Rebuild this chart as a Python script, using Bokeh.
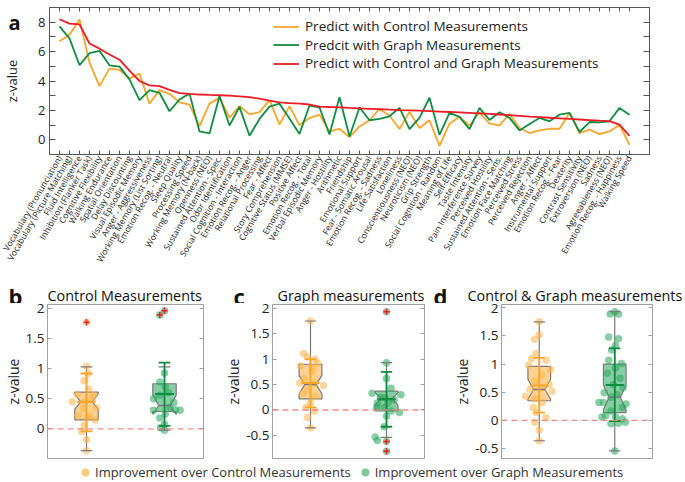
import math
from bokeh.plotting import figure
from bokeh.layouts import column, row
from bokeh.models import (ColumnDataSource, FixedTicker, LinearAxis, Legend, LegendItem,
                          Label, Span, Range1d)
from bokeh.embed import file_html
from bokeh.resources import INLINE

FONT = "Open Sans"

# ---------------- data: panel a ----------------
measures = [
    "Vocabulary (Pronunciation)", "Vocabulary (Picture Matching)", "Fluid Intelligence",
    "Inhibition (Flanker Task)", "Cognitive Flexibility", "Walking Endurance",
    "Spatial Orientation", "Delay Discounting", "Visual Episodic Memory",
    "Anger - Aggressiveness", "Working Memory (List Sorting)", "Emotion Recog. - Neutral",
    "Sleep Quality", "Processing Speed", "Working Memory (N-back)", "Openness (NEO)",
    "Sustained Attention - Spec.", "Odor Identification", "Social Cognition - Interaction",
    "Emotion Recog. - Anger", "Relational Processing", "Fear - Affect",
    "Story Comprehension", "Cognitive Status (MMSE)", "Positive Affect",
    "Emotion Recog. - Total", "Verbal Episodic Memory", "Anger - Hostility",
    "Arithmetic", "Friendship", "Emotional Support", "Fear - Somatic Arousal",
    "Emotion Recog. - Sadness", "Life Satisfaction", "Loneliness",
    "Conscientiousness (NEO)", "Neuroticism (NEO)", "Grip Strength",
    "Social Cognition - Random", "Meaning of Life", "Self-Efficacy", "Taste Intensity",
    "Pain Interference Survey", "Perceived Hostility", "Sustained Attention - Sens.",
    "Emotion Face Matching", "Perceived Stress", "Perceived Rejection", "Anger - Affect",
    "Instrumental Support", "Emotion Recog. - Fear", "Dexterity", "Contrast Sensitivity",
    "Extroversion (NEO)", "Sadness", "Agreeableness (NEO)", "Emotion Recog. - Happiness",
    "Walking Speed",
]
pred_control = [6.7, 7.15, 8.18, 5.25, 3.65, 4.84, 4.75, 4.18, 4.5, 2.46,
                3.38, 3.13, 2.55, 2.4, 0.93, 2.46, 2.86, 1.5, 2.3, 1.73,
                1.88, 2.7, 1.05, 2.28, 1.0, 1.48, 1.71, 0.57, 0.75, 0.18,
                0.91, 1.33, 2.1, 1.65, 0.73, 1.9, 0.8, 1.33, -0.41, 1.1,
                1.56, 0.96, 1.87, 1.1, 0.98, 1.76, 0.8, 0.46, 0.64, 0.75,
                0.75, 1.83, 0.46, 0.69, 0.39, 0.57, 1.03, -0.34]
pred_graph = [7.72, 6.9, 5.07, 5.9, 6.05, 5.07, 4.98, 4.11, 2.7, 3.38,
              3.2, 1.94, 2.74, 3.14, 0.57, 0.43, 2.98, 0.97, 2.24, 0.28,
              1.42, 2.26, 2.46, 1.45, 0.4, 2.33, 2.2, 0.36, 2.9, 0.23,
              2.2, 1.33, 1.42, 1.6, 2.17, 0.73, 1.49, 2.86, 0.34, 1.83,
              1.56, 0.73, 2.17, 1.35, 1.87, 1.49, 0.64, 1.08, 1.49, 1.26,
              1.71, 1.83, 0.53, 1.21, 1.19, 1.26, 2.17, 1.71]
pred_both = [8.2, 7.9, 7.85, 6.55, 6.2, 5.8, 5.45, 4.7, 4.0, 3.7,
             3.65, 3.4, 3.17, 3.12, 3.08, 3.05, 3.03, 3.0, 2.95, 2.9,
             2.8, 2.67, 2.55, 2.5, 2.46, 2.4, 2.26, 2.23, 2.21, 2.17,
             2.14, 2.11, 2.08, 2.05, 2.02, 2.0, 1.98, 1.95, 1.92, 1.89,
             1.86, 1.83, 1.8, 1.76, 1.72, 1.68, 1.63, 1.58, 1.54, 1.5,
             1.46, 1.42, 1.38, 1.34, 1.3, 1.27, 1.03, 0.27]
series_names = ["Predict with Control Measurements", "Predcit with Graph Measurements",
                "Predict with Control and Graph Measurements"]
top_yticks = [0, 2, 4, 6, 8]
top_yminor = [1, 3, 5, 7]
top_yall = [0, 1, 2, 3, 4, 5, 6, 7, 8]

# ---------------- data: panels b, c, d ----------------
groups = [1, 2]  # 1 = improvement over control, 2 = improvement over graph
legend_names = ["Improvement over Control Measurements", "Improvement over Graph Measurements"]
panel_letters = ["a", "b", "c", "d"]
panel_titles = ["Control Measurements", "Graph measurements", "Control & Graph  measurements"]

# panel b
b_ctrl_vals = [1.77, 1.04, 0.92, 0.80, 0.66, 0.57, 0.56, 0.50, 0.45, 0.44, 0.35, 0.33,
               0.22, 0.22, 0.18, 0.15, 0.06, -0.04, -0.18, -0.36]
b_ctrl_jit = [0.0, 0.0, 0.02, -0.03, 0.03, -0.12, 0.09, 0.07, -0.18, -0.03, 0.13, -0.04,
              -0.11, 0.04, 0.01, 0.11, -0.03, -0.06, 0.0, 0.0]
b_graph_vals = [1.96, 1.89, 0.93, 0.78, 0.70, 0.60, 0.56, 0.50, 0.44, 0.36, 0.32, 0.31,
                0.31, 0.25, 0.18, 0.08, 0.02, -0.02]
b_graph_jit = [0.0, -0.06, 0.0, -0.06, 0.01, 0.05, -0.06, -0.14, 0.12, 0.07, 0.14, 0.2,
               -0.14, 0.01, -0.06, 0.0, -0.05, 0.0]
b_stats = dict(q1=[0.15, 0.29], med=[0.45, 0.39], q3=[0.61, 0.75], nlo=[0.33, 0.24],
               nhi=[0.58, 0.56], wlo=[-0.36, -0.02], whi=[1.03, 1.03], mean=[0.45, 0.58],
               elo=[-0.04, 0.05], ehi=[0.92, 1.10])
b_out_grp = [1, 2, 2]
b_out_vals = [1.77, 1.96, 1.89]
b_out_jit = [0.0, 0.0, -0.06]

# panel c
c_ctrl_vals = [1.75, 1.11, 1.04, 1.00, 0.92, 0.87, 0.84, 0.75, 0.62, 0.53, 0.53, 0.48,
               0.40, 0.32, 0.27, 0.14, 0.05, -0.02, -0.15, -0.35]
c_ctrl_jit = [0.0, -0.09, -0.04, 0.06, 0.09, -0.13, 0.02, 0.02, -0.08, 0.06, -0.14, 0.17,
              -0.04, -0.1, 0.07, 0.0, -0.06, 0.05, -0.04, 0.0]
c_graph_vals = [1.93, 0.93, 0.62, 0.43, 0.33, 0.30, 0.25, 0.24, 0.20, 0.14, 0.14, 0.05,
                0.05, -0.02, -0.05, -0.12, -0.33, -0.53, -0.60, -0.62, -0.81]
c_graph_jit = [0.0, 0.0, 0.0, 0.06, -0.19, 0.19, -0.08, -0.02, 0.1, -0.12, 0.02, -0.03,
               -0.13, 0.06, 0.17, 0.0, -0.03, -0.15, -0.12, 0.0, 0.0]
c_stats = dict(q1=[0.22, -0.02], med=[0.50, 0.22], q3=[0.90, 0.37], nlo=[0.32, 0.10],
               nhi=[0.68, 0.34], wlo=[-0.35, -0.54], whi=[1.75, 0.93], mean=[0.53, 0.21],
               elo=[0.05, -0.33], ehi=[1.00, 0.75])
c_out_grp = [2, 2, 2]
c_out_vals = [1.93, -0.62, -0.81]
c_out_jit = [0.0, 0.0, 0.0]

# panel d
d_ctrl_vals = [1.75, 1.52, 1.44, 1.19, 1.10, 1.07, 0.98, 0.90, 0.81, 0.70, 0.64, 0.58,
               0.55, 0.52, 0.43, 0.38, 0.32, 0.23, 0.14, 0.05, -0.03, -0.17, -0.36]
d_ctrl_jit = [0.0, 0.0, -0.06, -0.04, -0.1, 0.09, -0.14, 0.15, 0.03, -0.06, 0.13, 0.05,
              -0.12, 0.17, -0.18, -0.06, 0.04, -0.08, -0.04, 0.09, -0.06, 0.0, 0.0]
d_graph_vals = [1.93, 1.89, 1.89, 1.48, 1.45, 1.33, 1.25, 1.07, 1.01, 0.93, 0.84, 0.75,
                0.64, 0.58, 0.49, 0.46, 0.41, 0.32, 0.32, 0.29, 0.23, 0.17, 0.09, 0.06,
                0.06, 0.03, -0.03, -0.05, -0.06, -0.54]
d_graph_jit = [0.0, -0.06, 0.05, -0.08, 0.05, 0.01, -0.04, -0.08, 0.09, 0.01, -0.1, 0.07,
               -0.02, 0.11, -0.14, 0.03, -0.05, -0.21, -0.15, 0.15, 0.1, -0.05, -0.12, 0.01,
               -0.17, 0.1, 0.14, 0.05, -0.05, 0.0]
d_stats = dict(q1=[0.35, 0.14], med=[0.55, 0.41], q3=[0.96, 1.00], nlo=[0.38, 0.19],
               nhi=[0.73, 0.63], wlo=[-0.36, -0.54], whi=[1.75, 1.93], mean=[0.62, 0.63],
               elo=[0.14, -0.01], ehi=[1.11, 1.28])
d_out_grp = []
d_out_vals = []
d_out_jit = []

# ---------------- styles ----------------
ORANGE = "#F8A62C"
GREEN = "#0F8D40"
RED = "#EC1C24"
PT_ORANGE = "#FDB44B"
PT_GREEN = "#26A65B"
GRAY = "#7a7a7a"
FRAME = "#a0a0a0"
DARK = "#555555"


def blank_fig(w, h):
    f = figure(width=w, height=h, output_backend="svg", toolbar_location=None,
               x_range=Range1d(0, 1), y_range=Range1d(0, 1), min_border=0,
               x_axis_location=None, y_axis_location=None)
    f.grid.visible = False
    f.outline_line_color = None
    return f


def add_text(p, x, y, text, size, bold=False, angle=0.0, align="left", baseline="alphabetic"):
    p.add_layout(Label(x=x, y=y, x_units="canvas", y_units="canvas", text=text,
                       angle=angle, text_align=align, text_baseline=baseline,
                       text_font=FONT, text_font_size=size,
                       text_font_style="bold" if bold else "normal",
                       text_color="#111111"))


# ---------------- panel a ----------------
# small strip holding the panel letter; the chart is laid over it (transparent border)
side_a = blank_fig(28, 270)
side_a.background_fill_alpha = 0
side_a.border_fill_alpha = 0
add_text(side_a, 8, 21.5, panel_letters[0], "20px", bold=True)

top = figure(width=685, height=270, output_backend="svg", toolbar_location=None,
             x_range=Range1d(0, 60), y_range=Range1d(-1, 9),
             min_border_left=48, min_border_right=36, min_border_top=7, min_border_bottom=116)
top.margin = (0, 0, 0, -28)
top.border_fill_alpha = 0
top.grid.visible = False
top.outline_line_color = DARK
xs = list(range(1, len(measures) + 1))
src = ColumnDataSource(dict(x=xs, c=pred_control, g=pred_graph, b=pred_both))
r_c = top.line("x", "c", source=src, line_color=ORANGE, line_width=1.8)
r_g = top.line("x", "g", source=src, line_color=GREEN, line_width=1.8)
r_b = top.line("x", "b", source=src, line_color=RED, line_width=1.8)

xa = top.xaxis[0]
xa.ticker = FixedTicker(ticks=xs)
xa.major_label_overrides = {x: m for x, m in zip(xs, measures)}
xa.major_label_orientation = math.pi / 3
xa.major_label_text_font = FONT
xa.major_label_text_font_size = "8.6px"
xa.major_label_text_color = "#222222"
xa.major_label_standoff = 2
xa.major_tick_in = 4
xa.major_tick_out = 0
xa.minor_tick_line_color = None
xa.axis_line_color = DARK
xa.major_tick_line_color = DARK

ya = top.yaxis[0]
ya.ticker = FixedTicker(ticks=top_yticks, minor_ticks=top_yminor)
ya.major_label_text_font = FONT
ya.major_label_text_font_size = "13px"
ya.major_label_text_color = "#222222"
ya.major_label_standoff = 4
ya.major_tick_in = 6
ya.major_tick_out = 0
ya.minor_tick_in = 6
ya.minor_tick_out = 0
ya.axis_line_color = DARK
ya.major_tick_line_color = DARK
ya.minor_tick_line_color = DARK
ya.axis_label = "z-value"
ya.axis_label_text_font = FONT
ya.axis_label_text_font_size = "13px"
ya.axis_label_text_font_style = "normal"
ya.axis_label_text_color = "#222222"
ya.axis_label_standoff = 14

ra = LinearAxis(ticker=FixedTicker(ticks=[], minor_ticks=top_yall), major_label_standoff=0,
                minor_tick_in=6, minor_tick_out=0, axis_line_color=DARK,
                minor_tick_line_color=DARK)
top.add_layout(ra, "right")
ta = LinearAxis(ticker=FixedTicker(ticks=[], minor_ticks=xs), major_label_standoff=0,
                minor_tick_in=4, minor_tick_out=0, axis_line_color=DARK,
                minor_tick_line_color=DARK)
top.add_layout(ta, "above")

# one legend per series, stacked
for r, name, yb in ((r_c, series_names[0], 119), (r_g, series_names[1], 100.5),
                    (r_b, series_names[2], 82)):
    top.add_layout(Legend(items=[LegendItem(label=name, renderers=[r])],
                          location=(224, yb), glyph_width=26, glyph_height=15, label_height=15,
                          spacing=0, padding=0, margin=0, label_standoff=6,
                          label_text_font=FONT, label_text_font_size="13.5px",
                          label_text_color="#222222", border_line_color=None,
                          background_fill_alpha=0))

# ---------------- panels b, c, d ----------------
W_BOX = 0.15
W_NOTCH = 0.075
W_CAP = 0.075
W_MEAN = 0.12


def box_panel(stats, ctrl_vals, ctrl_jit, graph_vals, graph_jit, out_grp, out_vals, out_jit,
              ylo, yhi, yticks, width, lb, rb):
    p = figure(width=width, height=156, output_backend="svg", toolbar_location=None,
               x_range=Range1d(0.5, 2.5), y_range=Range1d(ylo, yhi), x_axis_location=None,
               min_border_left=lb, min_border_right=rb, min_border_top=1, min_border_bottom=1)
    p.grid.visible = False
    p.outline_line_color = FRAME
    ax = p.yaxis[0]
    ax.ticker = FixedTicker(ticks=yticks)
    ax.major_label_overrides = {t: ("%g" % t) for t in yticks}
    ax.major_label_text_font = FONT
    ax.major_label_text_font_size = "13.5px"
    ax.major_label_text_color = "#222222"
    ax.major_label_standoff = 3
    ax.major_tick_in = 4
    ax.major_tick_out = 0
    ax.minor_tick_line_color = None
    ax.axis_line_color = FRAME
    ax.major_tick_line_color = FRAME
    ax.axis_label = "z-value"
    ax.axis_label_text_font = FONT
    ax.axis_label_text_font_size = "14px"
    ax.axis_label_text_font_style = "normal"
    ax.axis_label_text_color = "#222222"
    ax.axis_label_standoff = 0
    rax = LinearAxis(ticker=FixedTicker(ticks=[], minor_ticks=yticks), major_label_standoff=0,
                     minor_tick_in=4, minor_tick_out=0, axis_line_color=FRAME,
                     minor_tick_line_color=FRAME)
    p.add_layout(rax, "right")

    p.add_layout(Span(location=0, dimension="width", line_color="#F08080", line_alpha=0.9,
                      line_dash="6 4", line_width=1.3))

    st = dict(stats)
    st["x"] = groups
    s = ColumnDataSource(st)
    p.segment(x0="x", y0="wlo", x1="x", y1="whi", source=s, line_color=GRAY, line_width=1.2)
    pxs, pys = [], []
    for i, c in enumerate(groups):
        q1, md, q3 = stats["q1"][i], stats["med"][i], stats["q3"][i]
        nl, nh = stats["nlo"][i], stats["nhi"][i]
        pxs.append([c - W_BOX, c - W_BOX, c - W_NOTCH, c - W_BOX, c - W_BOX,
                    c + W_BOX, c + W_BOX, c + W_NOTCH, c + W_BOX, c + W_BOX])
        pys.append([q1, nl, md, nh, q3, q3, nh, md, nl, q1])
    p.patches(pxs, pys, fill_color=[PT_ORANGE, PT_GREEN], fill_alpha=[0.6, 0.55],
              line_color=GRAY, line_width=1.2)
    for vals, jit, g, col in ((ctrl_vals, ctrl_jit, groups[0], PT_ORANGE),
                              (graph_vals, graph_jit, groups[1], PT_GREEN)):
        ps = ColumnDataSource(dict(x=[g + j for j in jit], y=vals))
        p.scatter("x", "y", source=ps, size=7.5, fill_color=col, fill_alpha=0.55,
                  line_color=None)
    s2 = ColumnDataSource(dict(xl=[g - W_CAP for g in groups], xr=[g + W_CAP for g in groups],
                               nl=[g - W_NOTCH for g in groups], nr=[g + W_NOTCH for g in groups],
                               ml=[g - W_MEAN for g in groups], mr=[g + W_MEAN for g in groups],
                               x=groups, col=[ORANGE, GREEN], **stats))
    p.segment(x0="xl", y0="whi", x1="xr", y1="whi", source=s2, line_color=GRAY, line_width=1.2)
    p.segment(x0="xl", y0="wlo", x1="xr", y1="wlo", source=s2, line_color=GRAY, line_width=1.2)
    p.segment(x0="nl", y0="med", x1="nr", y1="med", source=s2, line_color=GRAY, line_width=1.5)
    p.segment(x0="x", y0="elo", x1="x", y1="ehi", source=s2, line_color="col", line_width=1.8)
    p.segment(x0="xl", y0="ehi", x1="xr", y1="ehi", source=s2, line_color="col", line_width=1.8)
    p.segment(x0="xl", y0="elo", x1="xr", y1="elo", source=s2, line_color="col", line_width=1.8)
    p.segment(x0="ml", y0="mean", x1="mr", y1="mean", source=s2, line_color="col", line_width=2)
    if out_vals:
        os_ = ColumnDataSource(dict(x=[g + j for g, j in zip(out_grp, out_jit)], y=out_vals))
        p.scatter("x", "y", source=os_, marker="cross", size=6, line_color=RED, line_width=1.5)
    return p


pb = box_panel(b_stats, b_ctrl_vals, b_ctrl_jit, b_graph_vals, b_graph_jit,
               b_out_grp, b_out_vals, b_out_jit, -0.49, 2.065, [0, 0.5, 1, 1.5, 2],
               221, 47, 18)
pc = box_panel(c_stats, c_ctrl_vals, c_ctrl_jit, c_graph_vals, c_graph_jit,
               c_out_grp, c_out_vals, c_out_jit, -0.954, 2.075, [-0.5, 0, 0.5, 1, 1.5, 2],
               229, 46, 26)
pd_ = box_panel(d_stats, d_ctrl_vals, d_ctrl_jit, d_graph_vals, d_graph_jit,
                d_out_grp, d_out_vals, d_out_jit, -0.675, 2.058, [-0.5, 0, 0.5, 1, 1.5, 2],
                235, 46, 33)

# titles row (letters + panel titles)
trow = blank_fig(685, 33)
add_text(trow, 8, 25.5, panel_letters[1], "22px", bold=True)
add_text(trow, 47, 24.5, panel_titles[0], "14.4px")
add_text(trow, 233, 25.5, panel_letters[2], "22px", bold=True)
add_text(trow, 277, 24.5, panel_titles[1], "14.4px")
add_text(trow, 433, 25.5, panel_letters[3], "22px", bold=True)
add_text(trow, 467, 24.5, panel_titles[2], "14.4px")

# ---------------- bottom legend ----------------
lf = blank_fig(685, 23)
lo = lf.scatter(x=[-5], y=[-5], size=8, fill_color=PT_ORANGE, fill_alpha=0.7, line_color=None)
lg = lf.scatter(x=[-5], y=[-5], size=8, fill_color=PT_GREEN, fill_alpha=0.6, line_color=None)
bleg = Legend(items=[LegendItem(label=legend_names[0], renderers=[lo]),
                     LegendItem(label=legend_names[1], renderers=[lg])],
              orientation="horizontal", location=(75, 0), glyph_width=20, glyph_height=20,
              label_height=20, label_standoff=0, spacing=4, padding=0, margin=0,
              label_text_font=FONT, label_text_font_size="13px", label_text_color="#333333",
              border_line_color=None, background_fill_alpha=0)
lf.add_layout(bleg)

layout = column(row(side_a, top), row(trow), row(pb, pc, pd_, spacing=0), row(lf), spacing=0)
open("out.html", "w").write(file_html(layout, INLINE))
